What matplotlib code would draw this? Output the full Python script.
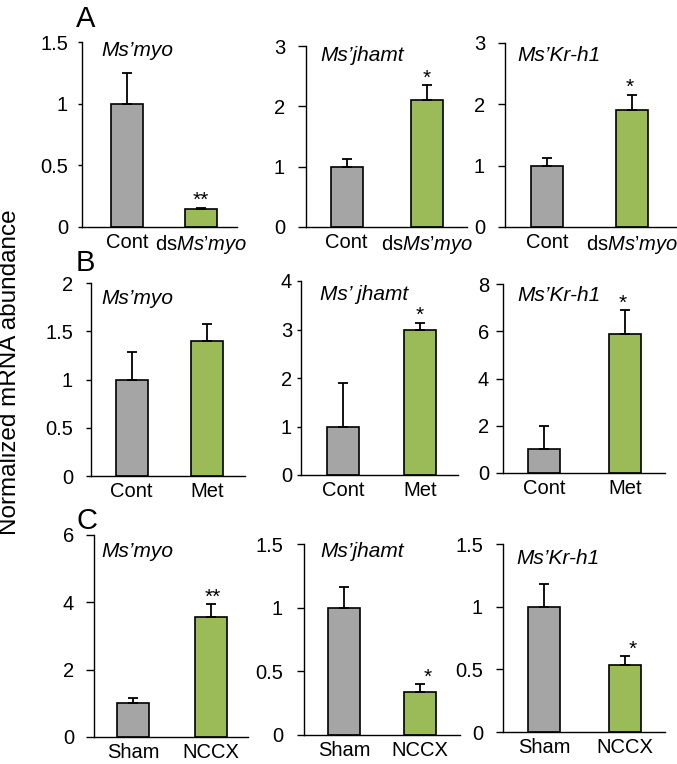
import matplotlib
matplotlib.use("Agg")
import matplotlib.pyplot as plt

plt.rcParams["font.family"] = ["Liberation Sans", "DejaVu Sans"]
plt.rcParams["mathtext.fontset"] = "custom"
plt.rcParams["mathtext.it"] = "Liberation Sans:italic"
plt.rcParams["mathtext.rm"] = "Liberation Sans"

# Data
genes = [["Ms’myo", "Ms’jhamt", "Ms’Kr-h1"],
         ["Ms’myo", "Ms’ jhamt", "Ms’Kr-h1"],
         ["Ms’myo", "Ms’jhamt", "Ms’Kr-h1"]]
groups = [["Cont", "ds$\\mathit{Ms’myo}$"],
          ["Cont", "Met"],
          ["Sham", "NCCX"]]
panel_letters = ["A", "B", "C"]

means = [[[1.0, 0.145], [1.0, 2.1], [1.0, 1.9]],
         [[1.0, 1.40], [1.0, 3.0], [1.0, 5.9]],
         [[1.0, 3.55], [1.0, 0.335], [1.0, 0.535]]]
errors = [[[0.25, 0.012], [0.12, 0.25], [0.12, 0.26]],
          [[0.28, 0.18], [0.90, 0.14], [1.0, 1.0]],
          [[0.15, 0.40], [0.16, 0.065], [0.18, 0.07]]]
stars = [["**", "*", "*"],
         ["", "*", "*"],
         ["**", "*", "*"]]
ymax = [[1.5, 3, 3], [2, 4, 8], [6, 1.5, 1.5]]
yticks = [[[0, 0.5, 1, 1.5], [0, 1, 2, 3], [0, 1, 2, 3]],
          [[0, 0.5, 1, 1.5, 2], [0, 1, 2, 3, 4], [0, 2, 4, 6, 8]],
          [[0, 2, 4, 6], [0, 0.5, 1, 1.5], [0, 0.5, 1, 1.5]]]
yticklabels = [[["0", "0.5", "1", "1.5"], ["0", "1", "2", "3"], ["0", "1", "2", "3"]],
               [["0", "0.5", "1", "1.5", "2"], ["0", "1", "2", "3", "4"], ["0", "2", "4", "6", "8"]],
               [["0", "2", "4", "6"], ["0", "0.5", "1", "1.5"], ["0", "0.5", "1", "1.5"]]]

colors = ["#A5A5A5", "#9BBB59"]

# Layout in pixels: left, right, top (ymax), bottom (y=0), bar centres
W, H = 677, 764
layout = [[(82, 237, 42, 227, 127, 201), (306, 467, 46, 227, 346.5, 427), (505, 676, 43, 227, 547, 632)],
          [(91, 245, 283, 476, 131.5, 207), (301, 458, 281, 475, 343, 420), (503, 665, 284, 473, 544, 625)],
          [(94, 248, 535, 737, 133, 211), (304, 460, 544, 735, 344, 420), (503, 665, 544, 732, 544, 625)]]
tick_len = [[4, 8, 7], [5, 4, 7], [8, 7, 7]]
tick_pad = [[10, 13, 13], [13, 5, 7], [12, 14, 13]]
title_pos = [[(101, 41), (320, 46), (517, 46)],
             [(101, 289), (320, 285), (517, 286)],
             [(101, 542), (320, 542), (516, 549)]]
star_dx = [[0, 0, -2], [0, 0, -2], [2, 8, 8]]
letter_pos = [(76, 5), (76, 249), (76, 507)]
bar_px = 32
px2pt = 0.72

fig = plt.figure(figsize=(W / 100, H / 100), dpi=100)

for r in range(3):
    for c in range(3):
        left, right, top, bottom, c0, c1 = layout[r][c]
        ax = fig.add_axes([left / W, 1 - bottom / H, (right - left) / W, (bottom - top) / H])
        s = c1 - c0
        x = [0, 1]
        ax.bar(x, means[r][c], width=bar_px / s, color=colors, edgecolor="black",
               linewidth=1.2, zorder=2)
        ax.errorbar(x, means[r][c], yerr=[[0, 0], errors[r][c]], fmt="none",
                    ecolor="black", elinewidth=1.3, capsize=3.3, capthick=1.3, zorder=3)
        ax.set_xlim((left - c0) / s, 1 + (right - c1) / s)
        ax.set_ylim(0, ymax[r][c])
        ax.set_yticks(yticks[r][c])
        ax.set_yticklabels(yticklabels[r][c])
        ax.set_xticks(x)
        ax.set_xticklabels(groups[r])
        ax.tick_params(axis="x", length=0, labelsize=14.5, pad=4)
        ax.tick_params(axis="y", direction="out", length=tick_len[r][c] * px2pt, width=1,
                       labelsize=14.5, pad=tick_pad[r][c] * px2pt)
        for sp in ["top", "right"]:
            ax.spines[sp].set_visible(False)
        for sp in ["left", "bottom"]:
            ax.spines[sp].set_linewidth(1)
        ax.patch.set_alpha(0)
        # significance marks
        if stars[r][c]:
            top_val = means[r][c][1] + errors[r][c][1]
            ax.annotate(stars[r][c], xy=(1, top_val), xytext=(star_dx[r][c], 7),
                        textcoords="offset pixels", ha="center", va="center",
                        fontsize=15)
        # gene title
        tx, ty = title_pos[r][c]
        fig.text(tx / W, 1 - ty / H, genes[r][c], fontsize=15, style="italic",
                 ha="left", va="top")
    lx, ly = letter_pos[r]
    fig.text(lx / W, 1 - ly / H, panel_letters[r], fontsize=21, ha="left", va="top")

fig.text(10 / W, 1 - 372 / H, "Normalized mRNA abundance", rotation=90,
         fontsize=17.5, ha="center", va="center")

fig.savefig("out.png", dpi=100)
